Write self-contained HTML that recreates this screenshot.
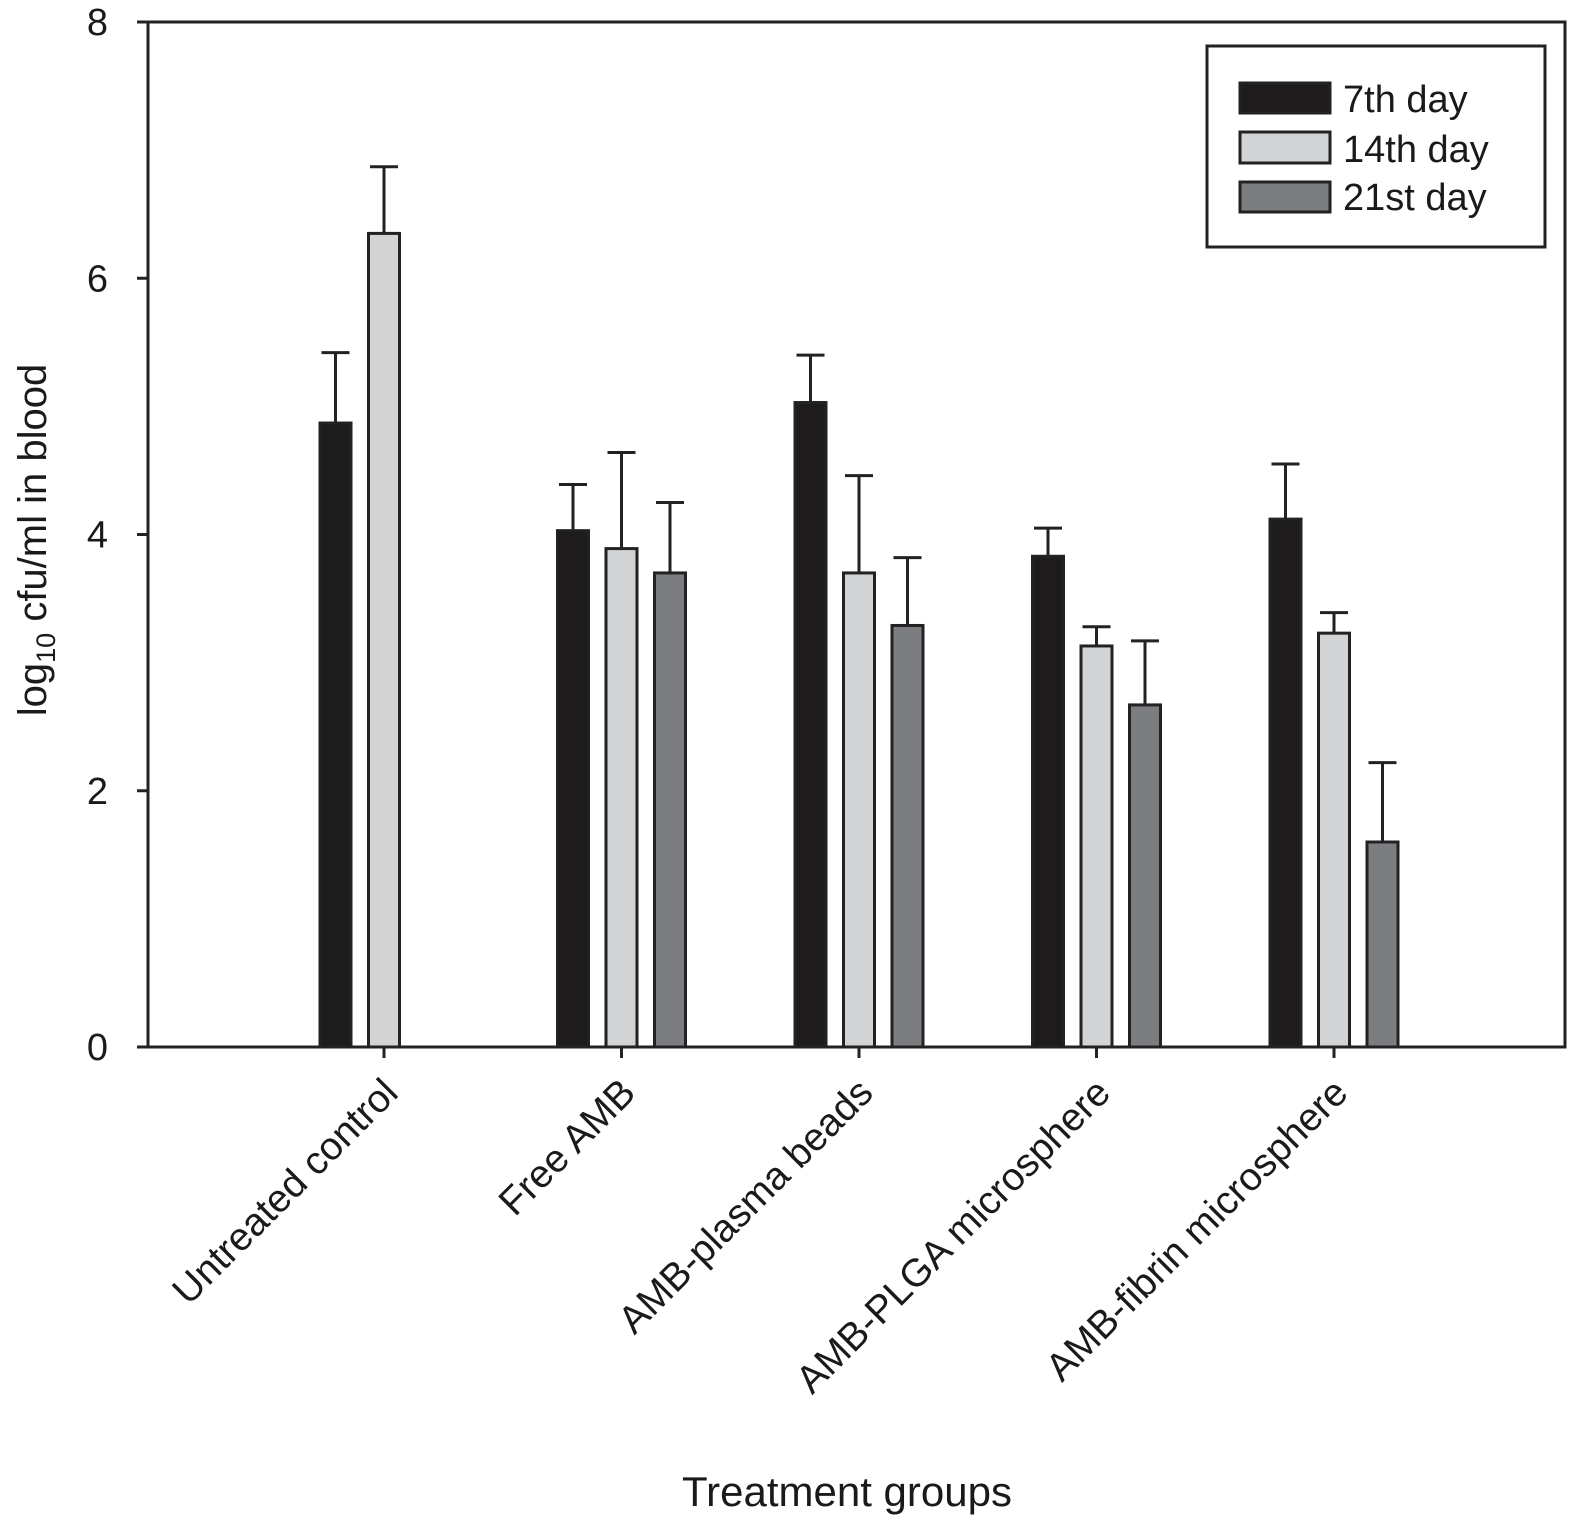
<!DOCTYPE html>
<html><head><meta charset="utf-8"><style>
body{margin:0;background:#fff;}
svg text{font-family:"Liberation Sans",Arial,sans-serif;fill:#1a1a1a;}
</style></head><body>
<svg id="chart" width="1574" height="1524" viewBox="0 0 1574 1524" xmlns="http://www.w3.org/2000/svg">
<g id="bars"></g>
<g id="axes"></g>
<g>
<rect x="1207" y="46" width="338" height="201" fill="#fff" stroke="#222" stroke-width="3"/>
<rect x="1240" y="83" width="90" height="30" fill="#1e1b1c" stroke="#222" stroke-width="3"/>
<text x="1343" y="112" font-size="38">7th day</text>
<rect x="1240" y="132" width="90" height="31" fill="#d2d3d5" stroke="#222" stroke-width="3"/>
<text x="1343" y="162" font-size="38">14th day</text>
<rect x="1240" y="182" width="90" height="30" fill="#7b7d80" stroke="#222" stroke-width="3"/>
<text x="1343" y="210" font-size="38">21st day</text>
</g>
<text x="847" y="1506" font-size="42" text-anchor="middle">Treatment groups</text>
<text transform="translate(46,540) rotate(-90)" font-size="40" text-anchor="middle">log<tspan font-size="27" dy="9">10</tspan><tspan dy="-9"> cfu/ml in blood</tspan></text>
</svg>
<script>
const categories=["Untreated control","Free AMB","AMB-plasma beads","AMB-PLGA microsphere","AMB-fibrin microsphere"];
const seriesNames=["7th day","14th day","21st day"];
const day7=[4.87,4.03,5.03,3.83,4.12];
const day7Err=[5.42,4.39,5.40,4.05,4.55];
const day14=[6.35,3.89,3.70,3.13,3.23];
const day14Err=[6.87,4.64,4.46,3.28,3.39];
const day21=[null,3.70,3.29,2.67,1.60];
const day21Err=[null,4.25,3.82,3.17,2.22];
const yTicks=[0,2,4,6,8];

const NS="http://www.w3.org/2000/svg";
const L=148,R=1565,T=22,B=1047;
const y=v=>B-(v/8)*(B-T);
const groupX=i=>384+i*237.5;
const offsets=[-48.5,0,48.5];
const fills=["#1e1b1c","#d2d3d5","#7b7d80"];
const bw=31;
function mk(tag,attrs,parent){const e=document.createElementNS(NS,tag);for(const k in attrs)e.setAttribute(k,attrs[k]);parent.appendChild(e);return e;}
const bars=document.getElementById('bars'),axes=document.getElementById('axes');
const vals=[day7,day14,day21],errs=[day7Err,day14Err,day21Err];
categories.forEach((c,i)=>{
  vals.forEach((s,j)=>{
    const v=s[i]; if(v==null)return;
    const cx=groupX(i)+offsets[j];
    const e=errs[j][i];
    const el=mk('line',{x1:cx,x2:cx,y1:y(v),y2:y(e),stroke:'#222','stroke-width':3},bars);
    
    
    const cap=mk('line',{x1:cx-14,x2:cx+14,y1:y(e),y2:y(e),stroke:'#222','stroke-width':3},bars);
    
    
    const r=mk('rect',{x:cx-bw/2,y:y(v),width:bw,height:B-y(v),fill:fills[j],stroke:'#222','stroke-width':3},bars);
    
    
  });
  const t=mk('line',{x1:groupX(i),x2:groupX(i),y1:B,y2:B+11,stroke:'#222','stroke-width':3},axes);
  
  
  const lb=mk('text',{transform:`translate(${groupX(i)+16},${B+48}) rotate(-45)`,'font-size':39,'text-anchor':'end'},axes);
  lb.textContent=c;
  
  
});
const frame=mk('rect',{x:L,y:T,width:R-L,height:B-T,fill:'none',stroke:'#222','stroke-width':3},axes);


yTicks.forEach(v=>{
  const t=mk('line',{x1:L-11,x2:L,y1:y(v),y2:y(v),stroke:'#222','stroke-width':3},axes);
  
  
  const lb=mk('text',{x:L-40,y:y(v)+13,'font-size':38,'text-anchor':'end'},axes);
  lb.textContent=v;
  
  
});
</script>
</body></html>
